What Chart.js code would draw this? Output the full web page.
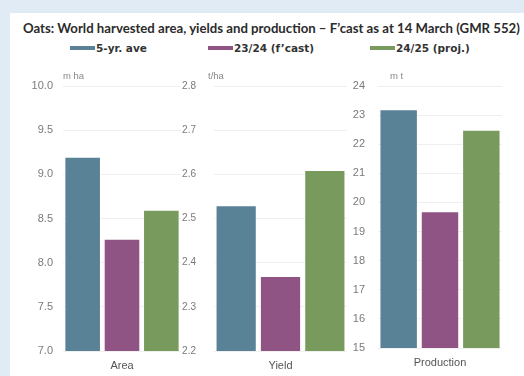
<!DOCTYPE html>
<html>
<head>
<meta charset="utf-8">
<script src="https://cdn.jsdelivr.net/npm/chart.js@4"></script>
<style>
  html, body { margin: 0; padding: 0; }
  body { width: 524px; height: 376px; background: #e1ebf6; position: relative; overflow: hidden; }
  #panel { position: absolute; left: 10px; top: 13px; width: 514px; height: 363px; background: #fff; }
  #title { position: absolute; left: 23px; top: 20px; white-space: nowrap;
    font: 700 12px Lato, sans-serif; color: #2b2b2b; }
  #legend { position: absolute; left: 0; top: 42px; width: 524px; height: 14px; }
  .lg { position: absolute; top: 0; white-space: nowrap; font: 700 10.5px "DejaVu Sans", sans-serif; color: #333; }
  .lg i { display: inline-block; width: 25px; height: 4px; vertical-align: middle; margin-right: 1px; position: relative; top: -1px; }
  canvas { position: absolute; }
</style>
</head>
<body>
<div id="panel"></div>
<div id="title">Oats: World harvested area, yields and production – F’cast as at 14 March (GMR 552)</div>
<div id="legend"></div>
<canvas id="c0"></canvas>
<canvas id="c1"></canvas>
<canvas id="c2"></canvas>
<script>
const panels = ['Area', 'Yield', 'Production'];
const units = ['m ha', 't/ha', 'm t'];
const seriesNames = ['5-yr. ave', '23/24 (f’cast)', '24/25 (proj.)'];
const fiveYrAve = [9.2, 2.53, 23.2];
const cast2324 = [8.27, 2.37, 19.7];
const proj2425 = [8.6, 2.61, 22.5];
const yMin = [7.0, 2.2, 15];
const yMax = [10.0, 2.8, 24];
const yStep = [0.5, 0.1, 1];
const yDecimals = [1, 1, 0];

const colors = ['#5a8296', '#8f5384', '#789a5c'];
const series = [fiveYrAve, cast2324, proj2425];

// stretch the title to the width it has in the picture
const title = document.getElementById('title');
title.style.fontSize = (12 * 497 / title.offsetWidth).toFixed(2) + 'px';

// legend
const legendX = [70, 208, 370];
const legend = document.getElementById('legend');
seriesNames.forEach((name, k) => {
  const d = document.createElement('div');
  d.className = 'lg';
  d.style.left = legendX[k] + 'px';
  d.innerHTML = '<i style="background:' + colors[k] + '"></i>';
  d.appendChild(document.createTextNode(name));
  legend.appendChild(d);
});

// canvas boxes
const boxes = [
  { left: 20, top: 70, w: 165, h: 306, axisW: 41, pad: 10, padB: 0, unitX: 63,
    tickFont: { family: 'Liberation Sans', size: 11 } },
  { left: 170, top: 70, w: 181, h: 306, axisW: 42, pad: 18, padB: 0, unitX: 208,
    tickFont: { family: "'Liberation Sans Narrow', 'Liberation Sans'", size: 10 } },
  { left: 335, top: 70, w: 171, h: 306, axisW: 41, pad: 13, padB: 3, unitX: 390,
    tickFont: { family: 'Liberation Sans', size: 11 } },
];

const unitPlugin = {
  id: 'unitPlugin',
  afterDraw(chart, args, opts) {
    const { ctx } = chart;
    ctx.save();
    ctx.font = '9.5px "Liberation Sans", Arial, sans-serif';
    ctx.fillStyle = '#888';
    ctx.textBaseline = 'middle';
    ctx.fillText(opts.text, opts.x, opts.y);
    ctx.restore();
  }
};

panels.forEach((name, i) => {
  const b = boxes[i];
  const cv = document.getElementById('c' + i);
  cv.style.left = b.left + 'px';
  cv.style.top = b.top + 'px';
  cv.style.width = b.w + 'px';
  cv.style.height = b.h + 'px';
  cv.width = b.w;
  cv.height = b.h;

  new Chart(cv, {
    type: 'bar',
    data: {
      labels: [name],
      datasets: series.map((s, k) => ({
        label: seriesNames[k],
        data: [s[i]],
        backgroundColor: colors[k],
        borderColor: 'rgba(255,255,255,0.5)',
        borderWidth: 1,
        borderSkipped: false,
        categoryPercentage: 1.0,
        barPercentage: 0.93,
      })),
    },
    options: {
      responsive: false,
      animation: false,
      devicePixelRatio: 1,
      layout: { padding: { top: 16, left: 2, right: 4, bottom: b.padB } },
      plugins: {
        legend: { display: false },
        tooltip: { enabled: false },
        unitPlugin: { text: units[i], x: b.unitX - b.left, y: 76 - b.top },
      },
      scales: {
        x: {
          grid: { display: false, drawTicks: false },
          border: { display: false },
          ticks: { padding: 8, color: '#555', font: { family: 'Liberation Sans', size: 11 } },
          afterFit: (sc) => { sc.height = 25; },
        },
        y: {
          min: yMin[i],
          max: yMax[i],
          grid: { color: '#efefef', drawTicks: false },
          border: { display: false },
          ticks: {
            stepSize: yStep[i],
            padding: b.pad,
            color: '#7a7a7a',
            font: b.tickFont,
            callback: (v) => Number(v).toFixed(yDecimals[i]),
          },
          afterFit: (sc) => {
            sc.width = b.axisW;
            sc.paddingTop = 0;
            sc.paddingBottom = 0;
          },
        },
      },
    },
    plugins: [unitPlugin],
  });
});
</script>
</body>
</html>
